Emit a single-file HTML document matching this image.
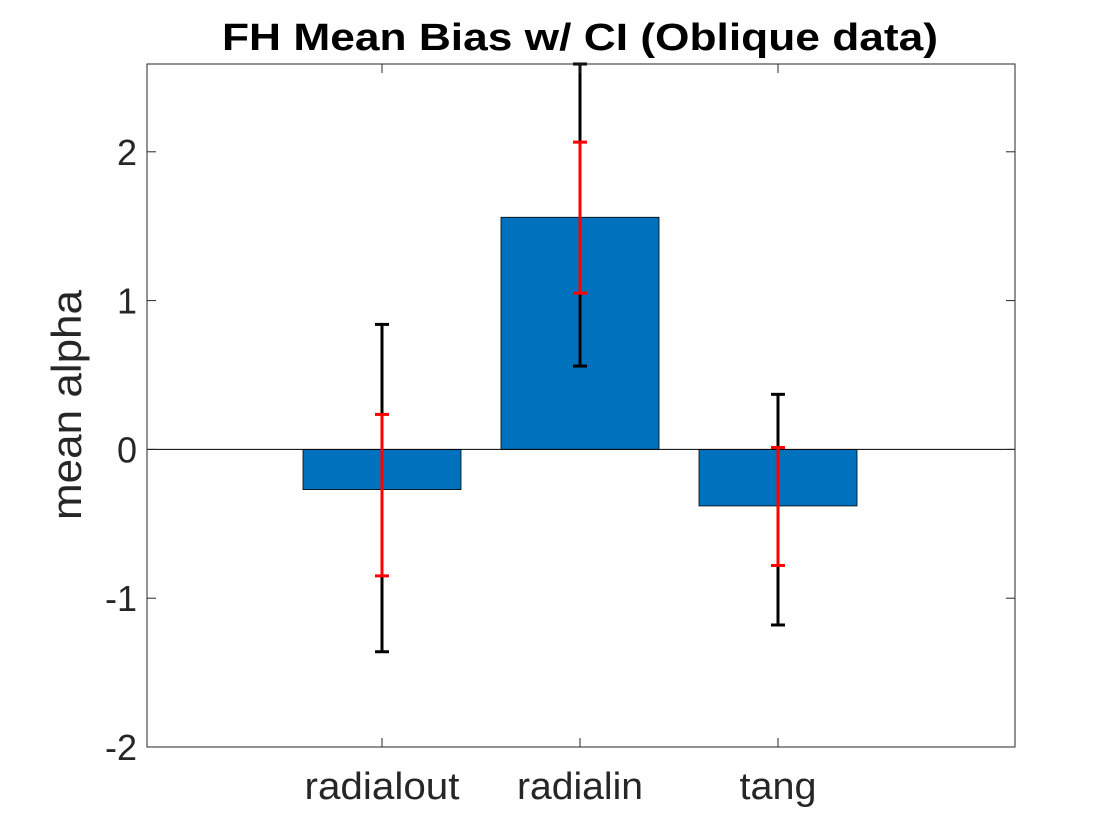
<!DOCTYPE html>
<html><head><meta charset="utf-8"><style>
html,body{margin:0;padding:0;background:#fff;}
svg{display:block;font-family:"Liberation Sans",sans-serif;}
</style></head><body>
<svg id="chart" width="1120" height="840" viewBox="0 0 1120 840" xmlns="http://www.w3.org/2000/svg"></svg>
<script>
const categories = ["radialout","radialin","tang"];
const means = [-0.27, 1.56, -0.38];
const blackLow = [-1.36, 0.56, -1.18];
const blackHigh = [0.84, 2.59, 0.37];
const redLow = [-0.85, 1.05, -0.78];
const redHigh = [0.235, 2.065, 0.013];
const yTicks = [-2,-1,0,1,2];
const yTickLabels = ["-2","-1","0","1","2"];

const L=147,R=1015,T=64,B=747;
const yMin=-2,yMax=2.59;
function y(v){return B-(v-yMin)/(yMax-yMin)*(B-T);}
function x(i){return 382+i*198;}
const bw=158;
const svg=document.getElementById('chart');
const NS="http://www.w3.org/2000/svg";
function mk(tag,attrs,parent){const e=document.createElementNS(NS,tag);for(const k in attrs)e.setAttribute(k,attrs[k]);(parent||svg).appendChild(e);return e;}

const title=mk('text',{x:580,y:50,'text-anchor':'middle','font-size':'38','font-weight':'bold',fill:'#000',textLength:'716',lengthAdjust:'spacingAndGlyphs'});
title.textContent='FH Mean Bias w/ CI (Oblique data)';



const yl=mk('text',{x:0,y:0,transform:'translate(81,405) rotate(-90)','text-anchor':'middle','font-size':'42',fill:'#262626',textLength:'230',lengthAdjust:'spacingAndGlyphs'});
yl.textContent='mean alpha';



categories.forEach((c,i)=>{
  const y0=y(0),yv=y(means[i]);
  const r=mk('rect',{x:x(i)-bw/2,y:Math.min(y0,yv),width:bw,height:Math.abs(yv-y0),fill:'#0072BD',stroke:'#000','stroke-width':'0.8'});
  
  
});
const zl=mk('line',{x1:L,x2:R,y1:y(0),y2:y(0),stroke:'#000','stroke-width':'1'});



function err(i,lo,hi,col,name){
  const g=mk('g',{stroke:col,'stroke-width':'3'});
  
  
  mk('line',{x1:x(i),x2:x(i),y1:y(lo),y2:y(hi)},g);
  mk('line',{x1:x(i)-7,x2:x(i)+7,y1:y(lo),y2:y(lo)},g);
  mk('line',{x1:x(i)-7,x2:x(i)+7,y1:y(hi),y2:y(hi)},g);
}
categories.forEach((c,i)=>{err(i,blackLow[i],blackHigh[i],'#000','ci-black-'+c);});
categories.forEach((c,i)=>{err(i,redLow[i],redHigh[i],'#ff0000','ci-red-'+c);});

const box=mk('rect',{x:L,y:T,width:R-L,height:B-T,fill:'none',stroke:'#262626','stroke-width':'1'});



yTicks.forEach((v,k)=>{
  const yy=y(v);
  mk('line',{x1:L,x2:L+9,y1:yy,y2:yy,stroke:'#262626'});
  mk('line',{x1:R-9,x2:R,y1:yy,y2:yy,stroke:'#262626'});
  const t=mk('text',{x:L-10,y:yy+13,'text-anchor':'end','font-size':'36',fill:'#262626'});
  t.textContent=yTickLabels[k];
  
  
});
const xLabelW=[155,126,77];
categories.forEach((c,i)=>{
  mk('line',{x1:x(i),x2:x(i),y1:B,y2:B-9,stroke:'#262626'});
  mk('line',{x1:x(i),x2:x(i),y1:T,y2:T+9,stroke:'#262626'});
  const t=mk('text',{x:x(i),y:799,'text-anchor':'middle','font-size':'38',fill:'#262626',textLength:String(xLabelW[i]),lengthAdjust:'spacingAndGlyphs'});
  t.textContent=c;
  
  
});
</script>
</body></html>
